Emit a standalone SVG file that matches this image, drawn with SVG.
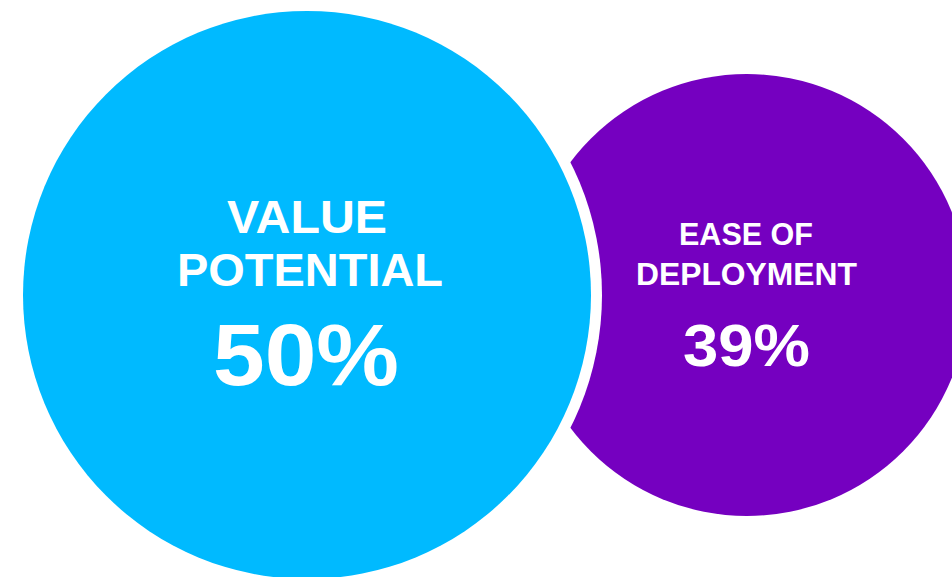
<svg xmlns="http://www.w3.org/2000/svg" width="952" height="577" viewBox="0 0 952 577">
<style>
.t{font-family:"Liberation Sans",Arial,sans-serif;font-weight:bold;fill:#ffffff;text-anchor:middle}
</style>
<rect x="0" y="0" width="952" height="577" fill="#ffffff"/>
<g id="ease">
<circle cx="747" cy="295" r="221" fill="#7500C0"/>
</g>
<g id="value">
<circle cx="307" cy="295" r="295" fill="#ffffff"/>
<circle cx="307" cy="295" r="284" fill="#00BAFF"/>
<text class="t" x="307" y="233" font-size="47" textLength="160" lengthAdjust="spacingAndGlyphs">VALUE</text>
<text class="t" x="310" y="286" font-size="47" textLength="266" lengthAdjust="spacingAndGlyphs">POTENTIAL</text>
<text class="t" x="306" y="385" font-size="87" textLength="186" lengthAdjust="spacingAndGlyphs">50%</text>
</g>
<g id="ease-text">
<text class="t" x="746" y="245" font-size="31" textLength="134" lengthAdjust="spacingAndGlyphs">EASE OF</text>
<text class="t" x="746.5" y="285" font-size="31" textLength="221" lengthAdjust="spacingAndGlyphs">DEPLOYMENT</text>
<text class="t" x="746.5" y="366" font-size="60" textLength="127" lengthAdjust="spacingAndGlyphs">39%</text>
</g>
<g id="connectors"></g>
</svg>
